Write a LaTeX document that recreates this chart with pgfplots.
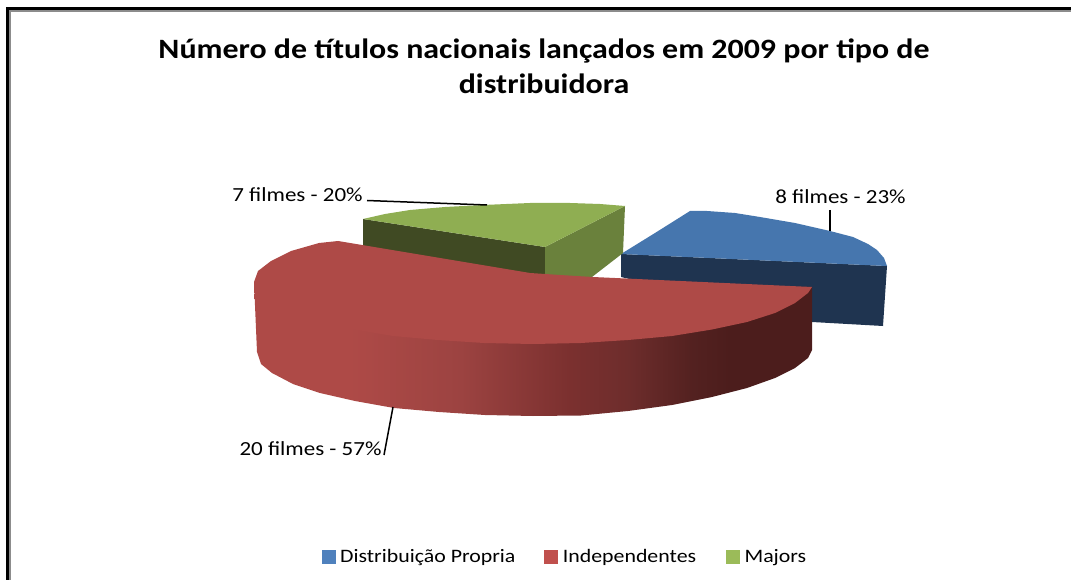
\documentclass[border=0pt]{standalone}
\usepackage{fontspec}
\setmainfont{Carlito}
\newfontfamily\titlefont[FakeStretch=1.14]{Carlito}
\newfontfamily\labelfont[FakeStretch=1.15]{Carlito}
\usepackage{pgfplots}
\pgfplotsset{compat=1.18}
\definecolor{bluetop}{HTML}{4676AE}
\definecolor{blueside}{HTML}{1F3450}
\definecolor{redtop}{HTML}{AE4A47}
\definecolor{greentop}{HTML}{8FAE52}
\definecolor{greendark}{HTML}{404A23}
\definecolor{greenside}{HTML}{6A813C}
\definecolor{legblue}{HTML}{4F81BD}
\definecolor{legred}{HTML}{C0504D}
\definecolor{leggreen}{HTML}{9BBB59}
\definecolor{r0}{HTML}{AE4A47}
\definecolor{r1}{HTML}{9C4341}
\definecolor{r2}{HTML}{7B302F}
\definecolor{r3}{HTML}{6E2D2C}
\definecolor{r4}{HTML}{532120}
\definecolor{r5}{HTML}{4C1D1C}
\pgfdeclarehorizontalshading{redside}{100bp}{color(0bp)=(r0); color(33.6bp)=(r0); color(43.5bp)=(r1); color(53.3bp)=(r2); color(58.4bp)=(r3); color(64.3bp)=(r4); color(67.7bp)=(r5); color(100bp)=(r5)}
\begin{document}
\begin{tikzpicture}
\useasboundingbox (0,0) rectangle (1071pt,580pt);
\begin{axis}[
  at={(0,0)}, anchor=south west,
  scale only axis, width=1071pt, height=580pt,
  xmin=0, xmax=1071, ymin=0, ymax=580, y dir=reverse,
  hide axis, clip=true,
  legend columns=3,
  legend style={draw=none, fill=none, at={(axis cs:565,557)}, anchor=center,
    font=\labelfont\fontsize{19}{21}\selectfont, inner sep=0pt, outer sep=0pt,
    /tikz/column 1/.style={column sep=3pt},
    /tikz/column 2/.style={column sep=27pt},
    /tikz/column 3/.style={column sep=3pt},
    /tikz/column 4/.style={column sep=28pt},
    /tikz/column 5/.style={column sep=3pt}},
  legend image code/.code={\fill[#1] (0pt,-6.5pt) rectangle (13pt,6.5pt);},
]
% frame
\addplot[draw=gray!90, line width=2pt, forget plot] coordinates {(10,580) (10,11) (1071,11)};
\addplot[draw=black, line width=3pt, forget plot] coordinates {(7.5,580) (7.5,8.5) (1071,8.5)};
% blue slice: side then top
\addplot[fill=blueside, draw=none, forget plot] coordinates {(621,254) (621,277) (812,322) (883,326) (887,266)} -- cycle;
\addplot[fill=bluetop, draw=none, forget plot] coordinates {(621,254) (655,233) (690,211) (707,211) (735,213) (760,217) (795,223) (830,231) (853,237) (868,244) (877,250) (884,258) (887,266)} -- cycle;
% green slice
\addplot[fill=greendark, draw=none, forget plot] coordinates {(363,219) (545,247) (545,276) (363,246)} -- cycle;
\addplot[fill=greenside, draw=none, forget plot] coordinates {(545,247) (625,206) (623,253) (592,277) (545,276)} -- cycle;
\addplot[fill=greentop, draw=none, forget plot] coordinates {(363,219) (385,214) (410,210) (445,207) (483,205) (530,203) (570,203) (600,204) (625,206) (545,247)} -- cycle;
% red slice: side
\addplot[shading=redside, draw=none, forget plot] coordinates {(254,282) (257,352) (261,364) (272,373) (293,384) (320,393) (355,401) (394,408) (439,412) (485,415) (533,416) (581,415.5) (628,411) (672,405) (712,397) (747,388) (775,378) (795,368) (808,358) (812,350) (812,287)} -- cycle;
% red slice: top
\addplot[fill=redtop, draw=none, forget plot] coordinates {(338,241) (530,273) (560,275) (593,277) (812,287) (808,293) (795,303) (775,313) (747,322) (712,329.5) (672,336) (628,340) (581,343) (533,344) (484,343) (438,340) (393,336) (354,329.5) (319,322) (291,313) (271,303) (258,293) (254,282) (258,271) (271,261) (291,251) (319,243)} -- cycle;
% leader lines
\addplot[black, line width=1.5pt, forget plot] coordinates {(367,200.5) (487,205)};
\addplot[black, line width=1.5pt, forget plot] coordinates {(830,210) (830,231)};
\addplot[black, line width=1.5pt, forget plot] coordinates {(393,407) (384,455)};
% legend
\addlegendimage{legblue}\addlegendentry{Distribuição Propria}
\addlegendimage{legred}\addlegendentry{Independentes}
\addlegendimage{leggreen}\addlegendentry{Majors}
% text
\node[font=\titlefont\fontsize{28}{35}\selectfont\bfseries, align=center] at (axis cs:544,66) {Número de títulos nacionais lançados em 2009 por tipo de\\distribuidora};
\node[font=\labelfont\fontsize{20}{22}\selectfont] at (axis cs:297.5,195) {7 filmes - 20\%};
\node[font=\labelfont\fontsize{20}{22}\selectfont] at (axis cs:840.5,197) {8 filmes - 23\%};
\node[font=\labelfont\fontsize{20}{22}\selectfont] at (axis cs:310.5,449) {20 filmes - 57\%};
\end{axis}
\end{tikzpicture}
\end{document}
